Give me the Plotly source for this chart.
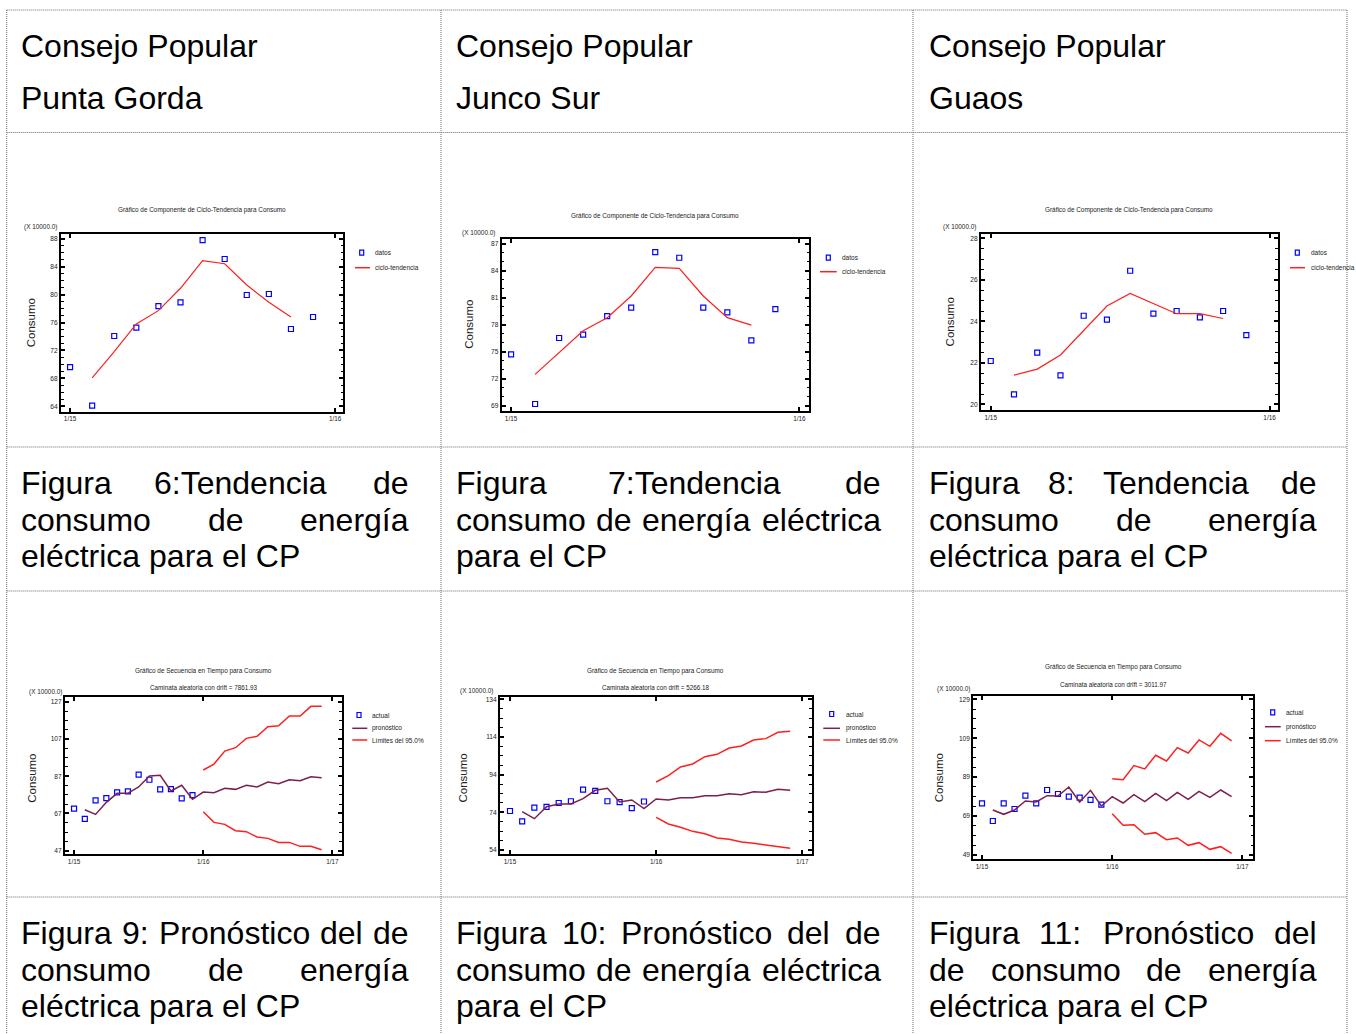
import plotly.graph_objects as go

W, H = 1356, 1034

# ---------------- data (Consumo, X 10000.0) ----------------
months_obs = list(range(12))        # 1/15 ... 12/15
months_trend = list(range(1, 11))
months_fc = list(range(1, 24))
months_lim = list(range(12, 24))

x_ticks_year = [0, 12]
x_labels_year = ["1/15", "1/16"]
x_ticks_fc = [0, 12, 24]
x_labels_fc = ["1/15", "1/16", "1/17"]

# Punta Gorda
pg_consumo = [69.6, 64.1, 74.07, 75.26, 78.36, 78.89, 87.8, 85.09, 79.94, 80.08, 75.07, 76.79]
pg_tendencia = [68.06, 71.83, 75.79, 77.7, 80.9, 84.85, 84.42, 81.37, 78.89, 76.79]
pg_pronostico = [69.0, 66.5, 72.95, 77.8, 77.8, 81.2, 87.1, 87.45, 79.04, 82.1, 74.6, 78.5,
                 78.14, 80.47, 79.93, 82.1, 81.2, 83.87, 82.97, 85.12, 84.58, 86.73, 86.2]
pg_lim_sup = [90.31, 93.53, 100.51, 102.3, 107.31, 108.39, 113.58, 114.11, 119.3, 119.3, 124.5, 124.5]
pg_lim_inf = [67.94, 62.21, 61.14, 57.74, 57.2, 54.34, 53.62, 51.47, 51.47, 49.33, 49.33, 47.54]

# Junco Sur
js_consumo = [74.7, 69.19, 76.52, 76.89, 78.96, 79.89, 86.07, 85.44, 79.89, 79.37, 76.26, 79.74]
js_tendencia = [72.48, 74.89, 77.33, 78.78, 81.19, 84.37, 84.26, 81.19, 78.78, 77.96]
js_pronostico = [74.35, 70.64, 77.01, 78.42, 78.42, 81.26, 85.68, 86.74, 79.49, 80.55, 75.95, 81.08,
                 80.55, 81.79, 81.79, 82.85, 82.85, 83.91, 83.38, 84.97, 84.62, 86.21, 85.68]
js_lim_sup = [90.11, 93.47, 98.07, 99.66, 103.56, 104.8, 108.16, 109.22, 112.41, 113.12, 116.48, 117.01]
js_lim_inf = [71.35, 67.81, 66.04, 63.91, 62.67, 60.37, 59.66, 58.25, 57.54, 56.65, 56.12, 54.88]

# Guaos
gu_consumo = [22.09, 20.48, 22.49, 21.4, 24.27, 24.08, 26.44, 24.37, 24.5, 24.19, 24.5, 23.34]
gu_tendencia = [21.41, 21.7, 22.38, 23.58, 24.74, 25.35, 24.87, 24.37, 24.37, 24.14]
gu_serie_actual = [75.55, 66.47, 75.55, 72.64, 79.49, 75.55, 82.4, 80.35, 78.98, 78.46, 77.27, 74.87]
gu_pronostico = [72.13, 69.9, 72.13, 76.75, 76.24, 79.49, 79.32, 83.95, 76.24, 82.23, 74.18, 78.98,
                 75.72, 80.01, 76.41, 80.69, 76.92, 81.21, 77.61, 81.72, 78.64, 82.4, 78.98]
gu_lim_sup = [88.23, 87.72, 94.91, 93.2, 100.22, 97.31, 104.16, 101.42, 108.1, 104.85, 111.53, 107.59]
gu_lim_inf = [70.24, 64.25, 64.59, 59.62, 60.48, 56.88, 57.74, 53.97, 55.34, 51.91, 53.28, 49.86]

drift_values = ["7861.93", "5266.18", "3011.97"]
cp_names = ["Punta Gorda", "Junco Sur", "Guaos"]

# ---------------- styling ----------------
SANS = "Liberation Sans, Arial, Helvetica, sans-serif"
BLUE = "#0000ff"
RED = "#ff1f1f"
MAROON = "#7d1f4d"
BORDER = "#6a6a6a"
TXT = "#222"


def fx(p):
    return p / W


def fy(p):
    return 1 - p / H


specs = [
    dict(kind="trend", frame=(61, 343.3, 234.3, 411.7), xr=(-0.41, 12.37), yr=(63.23, 88.63),
         ytick=(64, 4, 1), xt=x_ticks_year, xl=x_labels_year,
         title=(201.7, 210.5), sub=None, xlab=(24, 226.7), ytl=(30.8, 322.5),
         leg=dict(mx=361.7, lx0=355, lx1=370, tx=375, ys=[252.7, 267.7]),
         obs=pg_consumo, trend=pg_tendencia),
    dict(kind="trend", frame=(501.7, 809, 239.3, 411), xr=(-0.39, 12.4), yr=(68.41, 87.49),
         ytick=(69, 3, 1), xt=x_ticks_year, xl=x_labels_year,
         title=(655, 216), sub=None, xlab=(461.7, 232.7), ytl=(468.8, 324),
         leg=dict(mx=828.3, lx0=820, lx1=836.7, tx=842, ys=[257.7, 271.7]),
         obs=js_consumo, trend=js_tendencia),
    dict(kind="trend", frame=(981, 1277.7, 234, 410), xr=(-0.42, 12.35), yr=(19.73, 28.21),
         ytick=(20, 2, 0.5), xt=x_ticks_year, xl=x_labels_year,
         title=(1129.3, 210.5), sub=None, xlab=(942.7, 226.7), ytl=(949.7, 321.7),
         leg=dict(mx=1297.3, lx0=1290, lx1=1305, tx=1310.7, ys=[252.7, 267.7]),
         obs=gu_consumo, trend=gu_tendencia),
    dict(kind="fc", frame=(65, 341.7, 697.3, 854), xr=(-0.84, 24.86), yr=(45.23, 129.36),
         ytick=(47, 20, 5), xt=x_ticks_fc, xl=x_labels_fc,
         title=(203.3, 671), sub=(203.3, 687, drift_values[0]), xlab=(29.3, 691.7), ytl=(31.7, 778),
         leg=dict(mx=359, lx0=352.3, lx1=367.3, tx=371.7, ys=[715, 728.3, 740]),
         obs=pg_consumo, fc=pg_pronostico, up=pg_lim_sup, lo=pg_lim_inf),
    dict(kind="fc", frame=(500, 811.7, 696.7, 854), xr=(-0.82, 24.77), yr=(51.88, 135.38),
         ytick=(54, 20, 5), xt=x_ticks_fc, xl=x_labels_fc,
         title=(655, 671), sub=(655.7, 687.3, drift_values[1]), xlab=(460, 691), ytl=(462, 777.5),
         leg=dict(mx=831.7, lx0=823.3, lx1=840, tx=845.7, ys=[714, 728.3, 740]),
         obs=js_consumo, fc=js_pronostico, up=js_lim_sup, lo=js_lim_inf),
    dict(kind="fc", frame=(973.3, 1253.3, 695.7, 859), xr=(-0.8, 25.0), yr=(46.94, 130.85),
         ytick=(49, 20, 5), xt=x_ticks_fc, xl=x_labels_fc,
         title=(1113.3, 667.3), sub=(1113.3, 684.3, drift_values[2]), xlab=(936.7, 689), ytl=(938.8, 777.5),
         leg=dict(mx=1272.7, lx0=1265, lx1=1280.7, tx=1285.7, ys=[712.3, 726.7, 740.7]),
         obs=gu_serie_actual, fc=gu_pronostico, up=gu_lim_sup, lo=gu_lim_inf),
]

fig = go.Figure()
anns = []
shapes = []
layout_axes = {}


def ann(text, x, y, size, family=SANS, xanchor="left", yanchor="middle", color="black", **kw):
    d = dict(text=text, x=fx(x), y=fy(y), xref="paper", yref="paper", showarrow=False,
             xanchor=xanchor, yanchor=yanchor, borderpad=0, borderwidth=0,
             font=dict(family=family, size=size, color=color))
    d.update(kw)
    anns.append(d)


for i, s in enumerate(specs, start=1):
    l, r, t, b = s["frame"]
    suf = "" if i == 1 else str(i)
    xa, ya = "x" + suf, "y" + suf
    t0, dt, mdt = s["ytick"]
    layout_axes["xaxis" + suf] = dict(
        domain=[fx(l), fx(r)], range=list(s["xr"]), anchor=ya,
        tickmode="array", tickvals=s["xt"], ticktext=s["xl"],
        ticks="inside", ticklen=4, tickwidth=1.5, tickcolor="black",
        showline=True, linewidth=2, linecolor="black", mirror="allticks",
        showgrid=False, zeroline=False, fixedrange=True,
        tickfont=dict(family=SANS, size=6.4, color=TXT))
    layout_axes["yaxis" + suf] = dict(
        domain=[fy(b), fy(t)], range=list(s["yr"]), anchor=xa,
        tickmode="linear", tick0=t0, dtick=dt,
        ticks="inside", ticklen=4, tickwidth=1.5, tickcolor="black",
        minor=dict(ticks="inside", ticklen=2.5, tickwidth=1, tickcolor="black",
                   tick0=t0, dtick=mdt, showgrid=False),
        showline=True, linewidth=2, linecolor="black", mirror="allticks",
        showgrid=False, zeroline=False, fixedrange=True,
        tickfont=dict(family=SANS, size=6.6, color=TXT))

    if s["kind"] == "trend":
        names = ["datos", "ciclo-tendencia"]
        fig.add_trace(go.Scatter(x=months_obs, y=s["obs"], mode="markers", name=names[0],
                                 marker=dict(symbol="square-open", size=5, color=BLUE, line=dict(width=1.2)),
                                 xaxis=xa, yaxis=ya, showlegend=False))
        fig.add_trace(go.Scatter(x=months_trend, y=s["trend"], mode="lines", name=names[1],
                                 line=dict(color=RED, width=1.2), xaxis=xa, yaxis=ya, showlegend=False))
        title = "Gráfico de Componente de Ciclo-Tendencia para Consumo"
        leg_items = [("marker", BLUE, names[0]), ("line", RED, names[1])]
    else:
        names = ["actual", "pronóstico", "Límites del 95.0%"]
        fig.add_trace(go.Scatter(x=months_obs, y=s["obs"], mode="markers", name=names[0],
                                 marker=dict(symbol="square-open", size=5, color=BLUE, line=dict(width=1.2)),
                                 xaxis=xa, yaxis=ya, showlegend=False))
        fig.add_trace(go.Scatter(x=months_fc, y=s["fc"], mode="lines", name=names[1],
                                 line=dict(color=MAROON, width=1.5), xaxis=xa, yaxis=ya, showlegend=False))
        fig.add_trace(go.Scatter(x=months_lim, y=s["up"], mode="lines", name=names[2],
                                 line=dict(color=RED, width=1.5), xaxis=xa, yaxis=ya, showlegend=False))
        fig.add_trace(go.Scatter(x=months_lim, y=s["lo"], mode="lines", name=names[2],
                                 line=dict(color=RED, width=1.5), xaxis=xa, yaxis=ya, showlegend=False))
        title = "Gráfico de Secuencia en Tiempo para Consumo"
        leg_items = [("marker", BLUE, names[0]), ("line", MAROON, names[1]), ("line", RED, names[2])]

    # chart titles / labels
    ann(title, s["title"][0], s["title"][1], 6.4, xanchor="center", color=TXT)
    if s["sub"]:
        ann("Caminata aleatoria con drift = " + s["sub"][2], s["sub"][0], s["sub"][1], 6.3,
            xanchor="center", color=TXT)
    ann("(X 10000.0)", s["xlab"][0], s["xlab"][1], 6.4, color=TXT)
    ann("Consumo", s["ytl"][0], s["ytl"][1], 11.5, xanchor="center", textangle=-90, color=TXT)

    # legend
    lg = s["leg"]
    for (kind, col, label), yy in zip(leg_items, lg["ys"]):
        if kind == "marker":
            shapes.append(dict(type="rect", xref="paper", yref="paper",
                               x0=fx(lg["mx"] - 2), x1=fx(lg["mx"] + 2),
                               y0=fy(yy + 2.5), y1=fy(yy - 2.5),
                               line=dict(color=col, width=1.2), fillcolor="rgba(0,0,0,0)"))
        else:
            shapes.append(dict(type="line", xref="paper", yref="paper",
                               x0=fx(lg["lx0"]), x1=fx(lg["lx1"]), y0=fy(yy), y1=fy(yy),
                               line=dict(color=col, width=1.5)))
        ann(label, lg["tx"], yy, 6.5, color=TXT)

# ---------------- table text ----------------
FS = 32
AW = {" ": 278, "a": 556, "c": 500, "d": 556, "e": 556, "g": 556, "i": 222, "l": 222, "m": 833,
      "n": 556, "o": 556, "p": 556, "r": 333, "s": 500, "t": 278, "u": 556, "í": 278, "é": 556,
      "ó": 556, "F": 611, "T": 611, "C": 722, "P": 667, ":": 278}


def tw(s):
    return sum(AW.get(c, 556) for c in s) / 1000 * FS


def text_line(line, x0, x1, baseline, justify):
    yc = baseline - 0.3465 * FS
    words = line.split(" ")
    if not justify or len(words) == 1:
        ann(line, x0, yc, FS)
        return
    widths = [tw(w) for w in words]
    gap = (x1 - x0 - sum(widths)) / (len(words) - 1)
    x = x0
    for k, w in enumerate(words):
        if k == len(words) - 1:
            ann(w, x1, yc, FS, xanchor="right")
        else:
            ann(w, x, yc, FS)
        x += widths[k] + gap


col_x = [(21, 408.5), (456, 880.5), (929, 1316.5)]

for (x0, x1), name in zip(col_x, cp_names):
    text_line("Consejo Popular", x0, x1, 56.6, False)
    text_line(name, x0, x1, 108.8, False)

captions_row2 = [
    ["Figura 6:Tendencia de", "consumo de energía", "eléctrica para el CP"],
    ["Figura 7:Tendencia de", "consumo de energía eléctrica", "para el CP"],
    ["Figura 8: Tendencia de", "consumo de energía", "eléctrica para el CP"],
]
captions_row4 = [
    ["Figura 9: Pronóstico del de", "consumo de energía", "eléctrica para el CP"],
    ["Figura 10: Pronóstico del de", "consumo de energía eléctrica", "para el CP"],
    ["Figura 11: Pronóstico del", "de consumo de energía", "eléctrica para el CP"],
]
for caps, bases in ((captions_row2, [494, 530.6, 567.2]), (captions_row4, [944.4, 981, 1017.2])):
    for (x0, x1), lines in zip(col_x, caps):
        for k, (ln, bl) in enumerate(zip(lines, bases)):
            text_line(ln, x0, x1, bl, justify=(k < 2))

# ---------------- table borders (dotted) ----------------
h_lines = [10, 132.5, 447, 591, 897]
v_lines = [6.7, 441, 913, 1347]
for yy in h_lines:
    shapes.append(dict(type="line", xref="paper", yref="paper", x0=fx(6.7), x1=fx(1347),
                       y0=fy(yy), y1=fy(yy), line=dict(color=BORDER, width=1, dash="1px,1px")))
for xx in v_lines:
    shapes.append(dict(type="line", xref="paper", yref="paper", x0=fx(xx), x1=fx(xx),
                       y0=fy(10), y1=fy(H + 5), line=dict(color=BORDER, width=1, dash="1px,1px")))

fig.update_layout(
    width=W, height=H, autosize=False,
    margin=dict(l=0, r=0, t=0, b=0, pad=0),
    paper_bgcolor="white", plot_bgcolor="white",
    font=dict(family=SANS, color="black"),
    showlegend=False,
    annotations=anns, shapes=shapes,
    **layout_axes,
)

fig.write_html("out.html", config={"displayModeBar": False},
               post_script="document.body.style.margin='0';document.body.style.overflow='hidden';")
